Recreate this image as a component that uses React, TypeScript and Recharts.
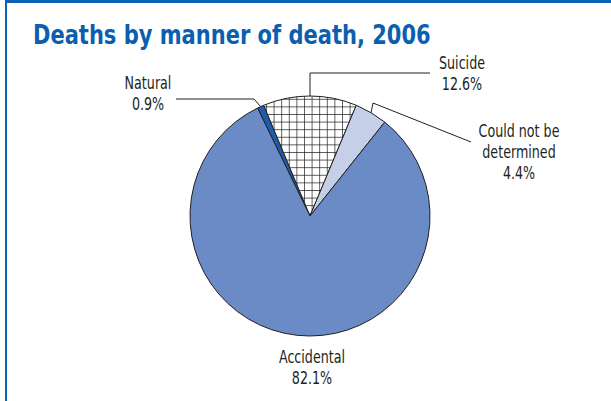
import React from "react";
import { PieChart, Pie, Cell } from "recharts";

const categories = ["Natural", "Suicide", "Could not be determined", "Accidental"];
const values = [0.9, 12.6, 4.4, 82.1];
const labelLines: string[][] = [["Natural", "0.9%"], ["Suicide", "12.6%"], ["Could not be", "determined", "4.4%"], ["Accidental", "82.1%"]];
const title = "Deaths by manner of death, 2006";

const fills = ["#1B5DAB", "url(#hatch)", "#C5CFE7", "#6A8BC6"];

// label placement relative to pie centre (style only)
const labelCfg = [
  { tx: -162, ty: -127, leader: [[-56, -117], [-134, -117]] },
  { tx: 152, ty: -147, leader: [[0, -143], [120, -143]] },
  { tx: 209, ty: -79, leader: [[63, -113], [161, -74]] },
  { tx: 2, ty: 147, leader: [] as number[][] },
];

const data = categories.map((name, i) => ({ name, value: values[i] }));
const total = values.reduce((a, b) => a + b, 0);
const startAngle = 90 + ((values[0] + values[1] / 2) / total) * 360;

const FONT = "'Liberation Sans Narrow', 'DejaVu Sans Condensed', 'Noto Sans', sans-serif";
const SX = 0.83;

const renderLabel = (props: any) => {
  const { cx, cy, midAngle, outerRadius, index } = props;
  const cfg = labelCfg[index];
  const RAD = Math.PI / 180;
  const ax = cx + outerRadius * Math.cos(-midAngle * RAD);
  const ay = cy + outerRadius * Math.sin(-midAngle * RAD);
  const pts = [[ax, ay], ...cfg.leader.map(([dx, dy]) => [cx + dx, cy + dy])];
  const x = cx + cfg.tx;
  return (
    <g key={`lbl-${index}`}>
      {cfg.leader.length > 0 && (
        <polyline
          points={pts.map((p) => p.join(",")).join(" ")}
          fill="none"
          stroke="#231F20"
          strokeWidth={1}
        />
      )}
      <g transform={`translate(${x},0) scale(${SX},1)`}>
        <text x={0} y={cy + cfg.ty} textAnchor="middle" fill="#231F20" fontSize={17} fontFamily={FONT}>
          {labelLines[index].map((t, j) => (
            <tspan key={j} x={0} dy={j === 0 ? 0 : 21}>
              {t}
            </tspan>
          ))}
        </text>
      </g>
    </g>
  );
};

export default function App() {
  return (
    <div style={{ position: "absolute", left: 0, top: 0, width: 611, height: 401, background: "#fff", overflow: "hidden" }}>
      <div style={{ position: "absolute", left: 5, top: 0, width: 606, height: 3, background: "#0B62B4" }} />
      <div style={{ position: "absolute", left: 5, top: 0, width: 2, height: 401, background: "#0B62B4" }} />
      <svg width={611} height={60} style={{ position: "absolute", left: 0, top: 0 }}>
        <g transform={`translate(33,0) scale(0.865,1)`}>
          <text x={0} y={44} fontFamily={FONT} fontWeight="bold" fontSize={27} fill="#0B5FAE">
            {title}
          </text>
        </g>
      </svg>
      <div style={{ position: "absolute", left: 0, top: 0 }}>
        <PieChart width={611} height={401} margin={{ top: 0, right: 0, bottom: 0, left: 0 }}>
          <defs>
            <pattern id="hatch" patternUnits="userSpaceOnUse" width={7.6} height={7.6} x={0} y={0}>
              <rect width={7.6} height={7.6} fill="#ffffff" />
              <path d="M0 0 H7.6 M0 0 V7.6" stroke="#231F20" strokeWidth={1.4} />
            </pattern>
          </defs>
          <Pie
            data={data}
            dataKey="value"
            nameKey="name"
            cx={310}
            cy={216}
            outerRadius={120}
            startAngle={startAngle}
            endAngle={startAngle - 360}
            stroke="#231F20"
            strokeWidth={1}
            label={renderLabel}
            labelLine={false}
            isAnimationActive={false}
          >
            {data.map((d, i) => (
              <Cell key={d.name} fill={fills[i]} />
            ))}
          </Pie>
        </PieChart>
      </div>
    </div>
  );
}
